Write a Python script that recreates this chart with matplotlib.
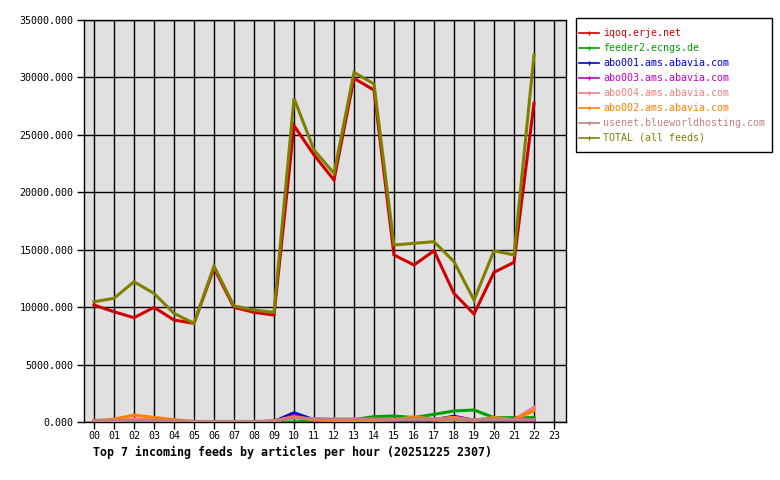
import matplotlib
matplotlib.use("Agg")
import matplotlib.pyplot as plt
from matplotlib.lines import Line2D
from matplotlib.patches import Rectangle

hours = list(range(23))
hour_labels = ["%02d" % h for h in range(24)]

iqoq = [10180, 9600, 9080, 9980, 8880, 8590, 13400, 9980, 9550, 9310, 25800, 23250,
        21070, 29920, 28900, 14540, 13670, 14910, 11200, 9400, 13030, 13900, 27750]
feeder2 = [0, 0, 0, 0, 0, 0, 0, 0, 0, 0, 0, 100,
           150, 200, 470, 520, 380, 670, 960, 1045, 380, 380, 380]
abo001 = [0, 0, 0, 0, 0, 0, 0, 0, 0, 50, 800, 200,
          100, 100, 100, 100, 100, 200, 500, 150, 200, 150, 150]
abo003 = [0, 0, 0, 0, 0, 0, 0, 0, 0, 50, 550, 150,
          100, 50, 50, 50, 50, 150, 350, 100, 150, 100, 100]
abo004 = [50, 100, 250, 200, 100, 0, 0, 0, 0, 100, 450, 200,
          150, 150, 150, 200, 300, 200, 400, 150, 350, 200, 1280]
abo002 = [100, 250, 600, 400, 200, 50, 0, 0, 0, 100, 400, 200,
          150, 150, 150, 200, 450, 250, 400, 150, 400, 200, 980]
usenet = [150, 150, 150, 150, 100, 50, 50, 50, 50, 100, 350, 300,
          260, 260, 260, 200, 200, 200, 200, 200, 200, 200, 200]
total = [10470, 10770, 12210, 11200, 9460, 8590, 13580, 10100, 9750, 9550, 28180, 23680,
         21650, 30440, 29430, 15410, 15560, 15700, 13960, 10620, 14910, 14540, 31950]

names = ["iqoq.erje.net", "feeder2.ecngs.de", "abo001.ams.abavia.com",
         "abo003.ams.abavia.com", "abo004.ams.abavia.com", "abo002.ams.abavia.com",
         "usenet.blueworldhosting.com", "TOTAL (all feeds)"]
series = [iqoq, feeder2, abo001, abo003, abo004, abo002, usenet, total]
colors = ["#d00000", "#00a000", "#0000d0", "#c000c0", "#f08080", "#ff8000",
          "#c08080", "#808000"]

mono = ["DejaVu Sans Mono"]
fs = 7.2

fig = plt.figure(figsize=(7.8, 4.8), dpi=100)
ax = fig.add_axes([84 / 780, 58 / 480, 482 / 780, 402 / 480])
ax.set_facecolor("#e0e0e0")

for vals, c in zip(series, colors):
    ax.plot(hours, vals, color=c, lw=2.2, solid_joinstyle="miter", zorder=3)

ax.set_xlim(-0.5, 23.6)
ax.set_ylim(0, 35000)
ax.set_xticks(range(24))
ax.set_xticklabels(hour_labels, fontfamily=mono, fontsize=fs)
yt = list(range(0, 35001, 5000))
ax.set_yticks(yt)
ax.set_yticklabels(["%.3f" % v for v in yt], fontfamily=mono, fontsize=fs)
ax.grid(True, color="black", lw=1, zorder=1)
ax.set_axisbelow(True)
ax.tick_params(direction="out", length=5, width=1, colors="black")
ax.tick_params(axis="y", pad=2.5)
ax.tick_params(axis="x", pad=1.5)
for s in ax.spines.values():
    s.set_linewidth(1)

fig.text(93 / 780, 1 - 452 / 480, "Top 7 incoming feeds by articles per hour (20251225 2307)",
         fontfamily=mono, fontsize=8.4, fontweight="bold", va="center")

# legend box drawn by hand, entries by the legend
fig.patches.append(Rectangle((576 / 780, 1 - 152 / 480), 196 / 780, 134 / 480,
                             transform=fig.transFigure, fill=False, edgecolor="black",
                             lw=1))
handles = [Line2D([0, 0.5, 1], [0, 0, 0], color=c, lw=1.2, marker="|", markersize=3,
                  markevery=[1]) for c in colors]
leg = fig.legend(handles, names, loc="upper left", bbox_to_anchor=(577 / 780, 1 - 26 / 480),
                 prop={"family": mono, "size": fs}, frameon=False,
                 handlelength=2.0, handletextpad=0.4,
                 labelspacing=0.5, borderpad=0.2, borderaxespad=0)
for t, c in zip(leg.get_texts(), colors):
    t.set_color(c)

fig.savefig("out.png", dpi=100)
